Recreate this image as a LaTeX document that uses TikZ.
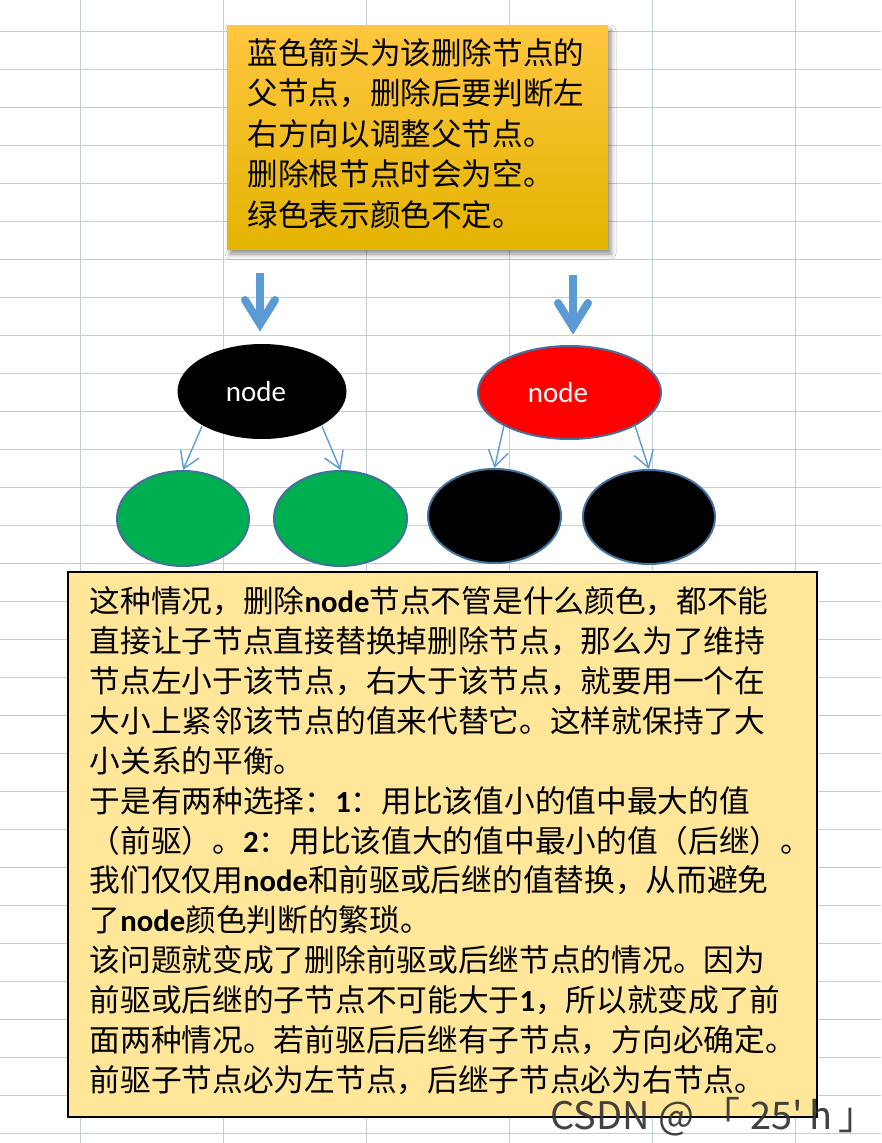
\documentclass[tikz,border=0pt]{standalone}
\usepackage{fontspec}
\newfontfamily\cjk{Noto Sans CJK SC}
\newfontfamily\lat{Carlito}
\usetikzlibrary{shapes.geometric,arrows.meta,shadows.blur,calc}
\definecolor{gridc}{RGB}{196,204,222}
\definecolor{arrblue}{RGB}{91,155,213}
\definecolor{edgeblue}{RGB}{65,113,156}
\definecolor{nodegreen}{RGB}{0,176,80}
\definecolor{boxyellow}{RGB}{255,230,153}
\newcommand\lt[1]{{\lat\bfseries #1}}
\tikzset{
  gridline/.style={draw=gridc, line width=1pt},
  notebox/.style={rectangle, minimum width=381pt, minimum height=224pt, inner sep=0pt,
    top color={rgb,255:red,255;green,198;blue,64}, middle color={rgb,255:red,255;green,192;blue,0},
    bottom color={rgb,255:red,228;green,180;blue,0},
    blur shadow={shadow xshift=3pt, shadow yshift=-5pt, shadow blur radius=5pt, shadow opacity=45}},
  cjktext/.style={anchor=base west, inner sep=0pt, align=left, text width=780pt},
  tnode/.style={ellipse, inner sep=0pt, line width=2pt},
  childarrow/.style={draw=arrblue, line width=1.4pt, -{Straight Barb[length=16pt,width=20pt]}},
  bigshaft/.style={draw=arrblue, line width=8pt, line cap=butt},
  bighead/.style={draw=arrblue, line width=8pt, line cap=round, line join=miter},
  textbox/.style={rectangle, draw=black, line width=2pt, fill=boxyellow, minimum width=749pt, minimum height=545pt, inner sep=0pt},
  nodelabel/.style={text=white, font=\lat\fontsize{29}{34}\selectfont}
}
\begin{document}
\begin{tikzpicture}[x=1pt,y=-1pt]
\useasboundingbox (0,0) rectangle (881,1143);
\fill[white] (0,0) rectangle (881,1143);
% spreadsheet grid
\foreach \gx in {80,223,366,509,652,795} \draw[gridline] (\gx,0) -- (\gx,1143);
\foreach \k in {0,...,29} \draw[gridline] (0,{31.7+38*\k}) -- (881,{31.7+38*\k});

% top note
\node[notebox] (note) at (417.5,137) {};
\node[cjktext, font=\cjk\fontsize{30.6}{40.4}\selectfont] (notetext) at (247.5,64.5) {%
蓝色箭头为该删除节点的\\
父节点，删除后要判断左\\
右方向以调整父节点。\\
删除根节点时会为空。\\
绿色表示颜色不定。};

% left tree
\node[tnode, fill=black, minimum width=169pt, minimum height=95pt, nodelabel] (rootL) at (262,391.5) {node\hspace*{12pt}};
\node[tnode, fill=nodegreen, draw=edgeblue, minimum width=132pt, minimum height=95pt] (gl) at (183,518.5) {};
\node[tnode, fill=nodegreen, draw=edgeblue, minimum width=133pt, minimum height=95pt] (gr) at (340.5,518.5) {};
\draw[childarrow] (rootL.210) -- (gl.north);
\draw[childarrow] (rootL.330) -- (gr.north);

% right tree
\node[tnode, fill=red, draw=edgeblue, minimum width=183pt, minimum height=93pt, nodelabel] (rootR) at (569.5,392.5) {node\hspace*{23pt}};
\node[tnode, fill=black, draw=edgeblue, minimum width=133pt, minimum height=94pt] (bl) at (494.5,516) {};
\node[tnode, fill=black, draw=edgeblue, minimum width=132pt, minimum height=94pt] (br) at (649,517) {};
\draw[childarrow] (rootR.207) -- (bl.north);
\draw[childarrow] (rootR.333) -- (br.north);

% big blue arrows
\coordinate (bigLtop) at (260,273);
\coordinate (bigLv) at (260,324);
\coordinate (bigRtop) at (573,275);
\coordinate (bigRv) at (573,327);
\draw[bigshaft] (bigLtop) -- (bigLv);
\draw[bighead] ($(bigLv)+(-15,-24)$) -- (bigLv) -- ($(bigLv)+(15,-24)$);
\draw[bigshaft] (bigRtop) -- (bigRv);
\draw[bighead] ($(bigRv)+(-15,-24)$) -- (bigRv) -- ($(bigRv)+(15,-24)$);

% bottom explanation
\node[textbox] (expl) at (442.5,844.5) {};
\node[cjktext, font=\cjk\fontsize{30.7}{39.9}\selectfont] (expltext) at (89.5,612.6) {%
这种情况，删除\lt{node}节点不管是什么颜色，都不能\\
直接让子节点直接替换掉删除节点，那么为了维持\\
节点左小于该节点，右大于该节点，就要用一个在\\
大小上紧邻该节点的值来代替它。这样就保持了大\\
小关系的平衡。\\
于是有两种选择：\lt{1}：用比该值小的值中最大的值\\
（前驱）。\lt{2}：用比该值大的值中最小的值（后继）。\\
我们仅仅用\lt{node}和前驱或后继的值替换，从而避免\\
了\lt{node}颜色判断的繁琐。\\
该问题就变成了删除前驱或后继节点的情况。因为\\
前驱或后继的子节点不可能大于\lt{1}，所以就变成了前\\
面两种情况。若前驱后后继有子节点，方向必确定。\\
前驱子节点必为左节点，后继子节点必为右节点。};

% watermark
\node[anchor=base west, inner sep=0pt, text={rgb,255:red,50;green,50;blue,50}, text opacity=0.92,
  font=\cjk\fontsize{38}{40}\selectfont] (wm) at (550,1129) {CSDN @\hspace*{8pt}「\hspace*{10pt}25'\hspace*{7pt}h\hspace*{6pt}」};
\end{tikzpicture}
\end{document}
